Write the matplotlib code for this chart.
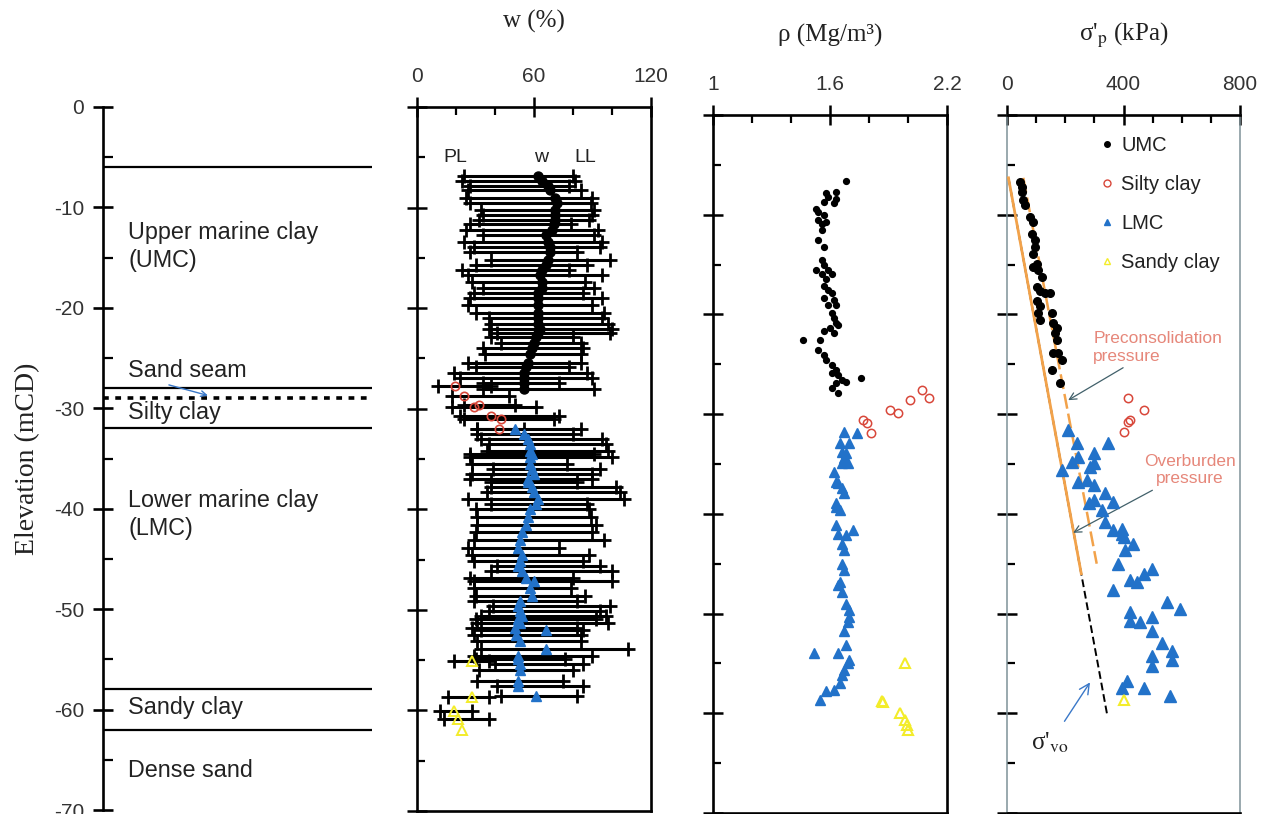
import numpy as np
import matplotlib
matplotlib.use("Agg")
import matplotlib.pyplot as plt
from matplotlib.lines import Line2D

plt.rcParams['font.family'] = ['Liberation Sans', 'DejaVu Sans']
plt.rcParams['mathtext.fontset'] = 'stix'
plt.rcParams['axes.unicode_minus'] = False

# ---------------- soil profile ----------------
layer_bounds = [-6.0, -28.0, -32.0, -58.0, -62.0]
sand_seam = -29.0
layer_names = ["Upper marine clay\n(UMC)", "Sand seam", "Silty clay",
               "Lower marine clay\n(LMC)", "Sandy clay", "Dense sand"]
layer_label_elev = [-13.9, -26.2, -30.4, -40.6, -59.8, -66.1]
elev_ticks = [0, -10, -20, -30, -40, -50, -60, -70]

# ---------------- water content and Atterberg limits ----------------
umc_elev = [-6.9, -7.4, -7.9, -8.3, -9.0, -9.5, -10.2, -10.7, -11.2, -11.6,
            -12.2, -12.7, -13.4, -13.9, -14.4, -15.2, -15.7, -16.2, -16.7, -17.4,
            -18.0, -18.5, -19.0, -19.7, -20.5, -21.0, -21.6, -22.1, -22.5, -22.9,
            -23.5, -24.0, -24.6, -25.5, -25.9, -26.4, -26.9, -27.4, -28.0]
umc_pl = [24, 23, 27, 26, 25, 27, 33, 34, 32, 27,
          25, 34, 24, 29, 27, 38, 30, 23, 26, 28,
          34, 29, 27, 26, 30, 37, 38, 37, 41, 38,
          43, 34, 35, 26, 30, 19, 22, 34, 34]
umc_w = [62, 64, 67, 68, 71, 72, 71, 71, 71, 70,
         69, 66, 67, 68, 68, 67, 66, 64, 63, 64,
         64, 62, 62, 62, 62, 62, 62, 63, 62, 61,
         60, 59, 58, 57, 56, 55, 55, 55, 55]
umc_ll = [80, 81, 78, 84, 90, 89, 91, 90, 88, 79,
          93, 91, 95, 94, 82, 99, 87, 78, 95, 86,
          91, 85, 95, 90, 96, 95, 98, 100, 99, 80,
          84, 85, 84, 84, 78, 87, 90, 73, 91]

silty_elev = [-27.7, -28.7, -29.6, -29.8, -30.7, -31.0, -32.0]
silty_pl = [11, 18, 24, 18, 22, 24, 31]
silty_w = [19.5, 24, 32, 29, 38, 43, 42]
silty_ll = [38, 47, 50, 61, 73, 70, 55]

lmc_elev = [-32.0, -32.5, -33.0, -33.5, -34.2, -34.5, -34.8, -35.5, -36.0, -36.5,
            -37.0, -37.3, -37.8, -38.3, -39.0, -39.5, -40.0, -40.8, -41.6, -42.3,
            -43.1, -43.8, -44.5, -45.1, -45.6, -46.1, -46.8, -47.1, -47.8, -48.6,
            -49.1, -49.6, -50.1, -50.6, -50.9, -51.3, -51.8, -52.0, -52.5, -53.1,
            -53.9, -54.6, -54.9, -55.4, -56.0, -57.1, -57.6, -58.6]
lmc_pl = [31, 31, 33, 37, 36, 27, 27, 28, 39, 28,
          27, 38, 38, 36, 26, 38, 30, 31, 31, 30,
          29, 26, 28, 29, 41, 38, 27, 29, 29, 30,
          29, 39, 37, 33, 30, 31, 28, 33, 29, 31,
          33, 29, 30, 40, 32, 31, 41, 43]
lmc_w = [50, 55, 57, 58, 58, 59, 58, 58, 59, 60,
         57, 57, 59, 60, 62, 61, 58, 57, 56, 54,
         53, 52, 54, 53, 52, 54, 56, 60, 58, 59,
         53, 52, 53, 54, 52, 53, 50, 66, 51, 53,
         66, 52, 52, 53, 53, 52, 52, 61]
lmc_ll = [84, 80, 95, 97, 98, 91, 100, 77, 94, 90,
          90, 82, 102, 104, 106, 87, 88, 89, 92, 90,
          96, 73, 88, 85, 94, 100, 80, 100, 79, 86,
          82, 99, 94, 97, 92, 98, 82, 85, 84, 84,
          108, 90, 76, 85, 80, 75, 85, 82]

sandy_elev = [-55.1, -58.7, -60.1, -60.9, -61.9]
sandy_pl = [19, 16, 12, 14, np.nan]
sandy_w = [28, 28, 19, 21, 23]
sandy_ll = [37, 37, 28, 37, np.nan]

# ---------------- bulk density ----------------
umc_rho_elev = [-6.6, -7.7, -7.8, -8.2, -8.4, -8.7, -8.8, -9.4, -9.7, -10.0,
                -10.5, -10.7, -10.9, -11.5, -12.5, -13.2, -14.5, -15.0, -15.5, -15.5,
                -15.9, -15.9, -16.4, -17.1, -17.6, -17.9, -18.4, -18.6, -19.1, -19.1,
                -19.9, -20.4, -20.9, -21.1, -21.4, -21.9, -21.7, -22.6, -22.6, -23.6,
                -24.1, -24.6, -25.1, -25.6, -25.9, -26.1, -26.6, -26.8, -26.4, -26.9,
                -27.4, -27.9]
umc_rho = [1.68, 1.63, 1.58, 1.59, 1.63, 1.57, 1.62, 1.53, 1.54, 1.57,
           1.54, 1.58, 1.56, 1.56, 1.54, 1.57, 1.56, 1.57, 1.53, 1.59,
           1.56, 1.61, 1.58, 1.57, 1.59, 1.61, 1.57, 1.62, 1.59, 1.63,
           1.61, 1.62, 1.63, 1.64, 1.60, 1.62, 1.57, 1.55, 1.46, 1.54,
           1.57, 1.58, 1.61, 1.63, 1.61, 1.64, 1.66, 1.68, 1.76, 1.63,
           1.61, 1.64]
silty_rho_elev = [-27.6, -28.4, -28.6, -29.6, -29.9, -30.6, -30.9, -31.9]
silty_rho = [2.07, 2.11, 2.01, 1.91, 1.95, 1.77, 1.79, 1.81]
lmc_rho_elev = [-31.8, -31.9, -32.9, -32.9, -33.8, -33.9, -34.4, -34.9, -34.9, -35.8,
                -36.8, -36.9, -37.4, -37.9, -38.9, -39.3, -39.6, -41.1, -41.6, -42.0,
                -42.1, -43.0, -43.6, -45.0, -45.6, -46.8, -47.1, -47.8, -49.0, -49.6,
                -50.3, -50.8, -51.7, -53.2, -54.0, -54.0, -54.7, -55.0, -55.7, -56.2,
                -57.0, -57.7, -57.8, -58.7]
lmc_rho = [1.67, 1.74, 1.65, 1.70, 1.66, 1.68, 1.67, 1.69, 1.66, 1.62,
           1.63, 1.64, 1.66, 1.67, 1.63, 1.63, 1.65, 1.63, 1.72, 1.64,
           1.68, 1.66, 1.67, 1.66, 1.67, 1.65, 1.64, 1.66, 1.68, 1.70,
           1.70, 1.69, 1.67, 1.68, 1.64, 1.52, 1.70, 1.69, 1.67, 1.66,
           1.65, 1.62, 1.58, 1.55]
sandy_rho_elev = [-55.0, -58.8, -58.9, -60.0, -60.7, -61.2, -61.7]
sandy_rho = [1.985, 1.865, 1.874, 1.96, 1.985, 1.993, 2.0]

# ---------------- preconsolidation pressure ----------------
umc_sp_elev = [-6.7, -7.2, -7.7, -8.5, -9.0, -10.2, -10.7, -11.9, -12.5, -13.2,
               -13.9, -14.9, -15.2, -15.5, -16.2, -17.2, -17.7, -17.9, -17.9, -18.7,
               -19.2, -19.9, -19.9, -20.6, -20.9, -21.4, -21.9, -22.6, -23.9, -23.9,
               -24.6, -25.6, -26.9]
umc_sp = [45, 50, 50, 56, 62, 79, 90, 85, 96, 96,
          90, 102, 90, 108, 119, 102, 113, 131, 148, 102,
          113, 154, 108, 113, 159, 171, 165, 171, 159, 176,
          188, 154, 182]
silty_sp_elev = [-28.4, -29.6, -30.6, -30.8, -31.8]
silty_sp = [417, 472, 423, 417, 400]
lmc_sp_elev = [-31.6, -32.9, -32.9, -33.9, -34.3, -34.8, -34.9, -35.3, -35.6, -36.8,
               -36.6, -37.1, -37.9, -38.9, -38.6, -38.8, -39.6, -40.8, -41.6, -41.5,
               -42.3, -42.0, -43.0, -43.6, -45.0, -45.5, -46.0, -46.6, -46.8, -47.6,
               -48.8, -49.5, -49.8, -50.7, -50.8, -50.3, -51.7, -53.0, -53.8, -54.7,
               -54.3, -55.3, -56.8, -57.5, -57.5, -58.3]
lmc_sp = [211, 239, 348, 297, 245, 222, 297, 285, 188, 245,
          274, 297, 337, 280, 297, 365, 325, 337, 365, 394,
          400, 394, 434, 406, 382, 497, 469, 423, 446, 365,
          549, 595, 423, 423, 457, 497, 497, 532, 566, 566,
          497, 497, 411, 394, 469, 560]
sandy_sp_elev = [-58.7]
sandy_sp = [400]

# effective overburden and preconsolidation trend lines
svo_elev = [-6.3, -60.0]
svo = [5, 343]
svo_upper_elev = [-6.3, -46.0]
svo_upper = [5, 255]
spc_elev = [-6.3, -45.0]
spc = [56, 308]

# ---------------- styles ----------------
SILTY_C = '#d8473a'
LMC_C = '#2272c9'
SANDY_C = '#f3ec2a'
ORANGE = '#f2a24a'
NOTE_C = '#e6877a'
ARROW_C = '#41606a'
TICK_C = '#333333'
SERIF = ['Liberation Serif', 'DejaVu Serif']

W, H = 1265, 814
fig = plt.figure(figsize=(W / 100, H / 100), dpi=100)


def box(x0, y0, x1, y1):
    return [x0 / W, 1 - y1 / H, (x1 - x0) / W, (y1 - y0) / H]


def style_profile(ax, xlim, major, minor, labels, title, title_off):
    ax.set_xlim(*xlim)
    ax.set_ylim(-70, 0)
    ax.xaxis.tick_top()
    ax.set_xticks(major)
    ax.set_xticklabels(labels)
    ax.set_xticks(minor, minor=True)
    ax.set_yticks(elev_ticks)
    ax.set_yticks(np.arange(-65, 0, 10), minor=True)
    ax.tick_params(which='major', direction='inout', length=14, width=1.8)
    ax.tick_params(which='minor', direction='in', length=6, width=1.6)
    ax.tick_params(axis='y', labelleft=False)
    ax.tick_params(axis='x', labelsize=15, pad=8, labelcolor=TICK_C)
    for s in ax.spines.values():
        s.set_linewidth(1.9)
    ax.annotate(title, xy=(0.5, 1), xycoords='axes fraction', xytext=(0, title_off),
                textcoords='offset pixels', ha='center', va='center',
                fontsize=18, family=SERIF, color='#222222')


# ---------------- soil column ----------------
axs = fig.add_axes(box(103, 107, 372, 810))
axs.set_xlim(0, 1)
axs.set_ylim(-70, 0)
for s in ['top', 'right', 'bottom']:
    axs.spines[s].set_visible(False)
axs.spines['left'].set_linewidth(1.9)
axs.set_xticks([])
axs.set_yticks(elev_ticks)
axs.set_yticks(np.arange(-65, 0, 10), minor=True)
axs.tick_params(which='major', direction='inout', length=15, width=1.9,
                labelsize=15, pad=6, labelcolor=TICK_C)
axs.tick_params(which='minor', direction='in', length=7, width=1.6)
axs.hlines(layer_bounds, 0, 1, colors='black', lw=1.6)
axs.hlines(sand_seam, 0, 1, colors='black', lw=2.6, linestyles=(0, (1.6, 1.8)))
for name, y in zip(layer_names, layer_label_elev):
    axs.text(0.093, y, name, ha='left', va='center', fontsize=16.8,
             color='#222222', linespacing=1.3)
axs.annotate('', xy=(0.40, -28.8), xytext=(0.235, -27.6),
             arrowprops=dict(arrowstyle='->', color='#3a78c8', lw=1.0))
fig.text(28 / W, 1 - 459 / H, 'Elevation (mCD)', rotation=90, ha='center',
         va='center', fontsize=20, family=SERIF, color='#222222')

# ---------------- water content ----------------
axw = fig.add_axes(box(417, 107, 651, 811))
style_profile(axw, (0, 120), [0, 60, 120], [20, 40, 80, 100],
              ['0', '60', '120'], 'w (%)', 86)
for el, pl, wv, ll in [(umc_elev, umc_pl, umc_w, umc_ll),
                       (silty_elev, silty_pl, silty_w, silty_ll),
                       (lmc_elev, lmc_pl, lmc_w, lmc_ll),
                       (sandy_elev, sandy_pl, sandy_w, sandy_ll)]:
    axw.hlines(el, pl, ll, colors='black', lw=2.2, zorder=2)
    axw.plot(pl, el, '+', color='black', ms=10, mew=2.0, zorder=2)
    axw.plot(ll, el, '+', color='black', ms=10, mew=2.0, zorder=2)
axw.plot(umc_w, umc_elev, 'o', color='black', ms=6.5, zorder=3)
axw.plot(silty_w, silty_elev, 'o', mfc='none', mec=SILTY_C, ms=6, mew=1.2, zorder=3)
axw.plot(lmc_w, lmc_elev, '^', color=LMC_C, ms=7.5, zorder=3)
axw.plot(sandy_w, sandy_elev, '^', mfc='none', mec=SANDY_C, ms=6.5, mew=1.4, zorder=3)
for txt, xv in [('PL', 19.5), ('w', 63.5), ('LL', 86.5)]:
    axw.text(xv, -5.0, txt, ha='center', va='center', fontsize=14, color='#222222')

# ---------------- bulk density ----------------
axr = fig.add_axes(box(713, 115, 947, 813))
style_profile(axr, (1.0, 2.2), [1.0, 1.6, 2.2], [1.2, 1.4, 1.8, 2.0],
              ['1', '1.6', '2.2'], 'ρ (Mg/m³)', 80)
axr.plot(umc_rho, umc_rho_elev, 'o', color='black', ms=4.2)
axr.plot(silty_rho, silty_rho_elev, 'o', mfc='none', mec=SILTY_C, ms=6, mew=1.1)
axr.plot(lmc_rho, lmc_rho_elev, '^', color=LMC_C, ms=7.5)
axr.plot(sandy_rho, sandy_rho_elev, '^', mfc='none', mec=SANDY_C, ms=7, mew=1.5)

# ---------------- preconsolidation pressure ----------------
axp = fig.add_axes(box(1007, 115, 1240, 813))
style_profile(axp, (0, 800), [0, 400, 800], [100, 200, 300, 500, 600, 700],
              ['0', '400', '800'], "σ'$_{\\mathrm{p}}$ (kPa)", 80)
for s in ['left', 'right']:
    axp.spines[s].set_color('#7f9298')
    axp.spines[s].set_linewidth(1.1)
axp.plot(svo, svo_elev, color='black', lw=1.4, ls=(0, (4, 2)), zorder=2)
axp.plot(svo_upper, svo_upper_elev, color=ORANGE, lw=2.0, zorder=3)
axp.plot(spc, spc_elev, color=ORANGE, lw=1.8, ls=(0, (6, 2)), zorder=3)
axp.plot(umc_sp, umc_sp_elev, 'o', color='black', ms=5.5, zorder=4)
axp.plot(silty_sp, silty_sp_elev, 'o', mfc='none', mec=SILTY_C, ms=6,
         mew=1.1, zorder=4)
axp.plot(lmc_sp, lmc_sp_elev, '^', color=LMC_C, ms=8, zorder=4)
axp.plot(sandy_sp, sandy_sp_elev, '^', mfc='none', mec=SANDY_C, ms=7,
         mew=1.5, zorder=4)

leg_handles = [Line2D([], [], ls='none', marker='o', color='black', ms=4),
               Line2D([], [], ls='none', marker='o', mfc='none', mec=SILTY_C, ms=5),
               Line2D([], [], ls='none', marker='^', color=LMC_C, ms=5),
               Line2D([], [], ls='none', marker='^', mfc='none', mec=SANDY_C, ms=5)]
axp.legend(leg_handles, ['UMC', 'Silty clay', 'LMC', 'Sandy clay'],
           loc='upper left', bbox_to_anchor=(0.40, 0.97), frameon=False,
           fontsize=14.5, labelspacing=1.0, handlelength=0.7, handletextpad=0.35,
           borderaxespad=0, borderpad=0, labelcolor='#222222')

axp.annotate('Preconsolidation\npressure', xy=(210, -28.6), xytext=(296, -23.3),
             ha='left', va='center', fontsize=12.5, color=NOTE_C,
             arrowprops=dict(arrowstyle='->', color=ARROW_C, lw=0.9,
                             shrinkA=2, shrinkB=0))
axp.annotate('Overburden\npressure', xy=(227, -41.9), xytext=(629, -35.6),
             ha='center', va='center', fontsize=12.5, color=NOTE_C,
             annotation_clip=False,
             arrowprops=dict(arrowstyle='->', color=ARROW_C, lw=0.9,
                             shrinkA=2, shrinkB=0))
axp.annotate("σ'$_{\\mathrm{vo}}$", xy=(285, -56.9), xytext=(148, -63.0),
             ha='center', va='center', fontsize=18, family=SERIF, color='#222222',
             arrowprops=dict(arrowstyle='->', color='#3a78c8', lw=1.0,
                             shrinkA=6, shrinkB=0))

fig.savefig('out.png', dpi=100)
